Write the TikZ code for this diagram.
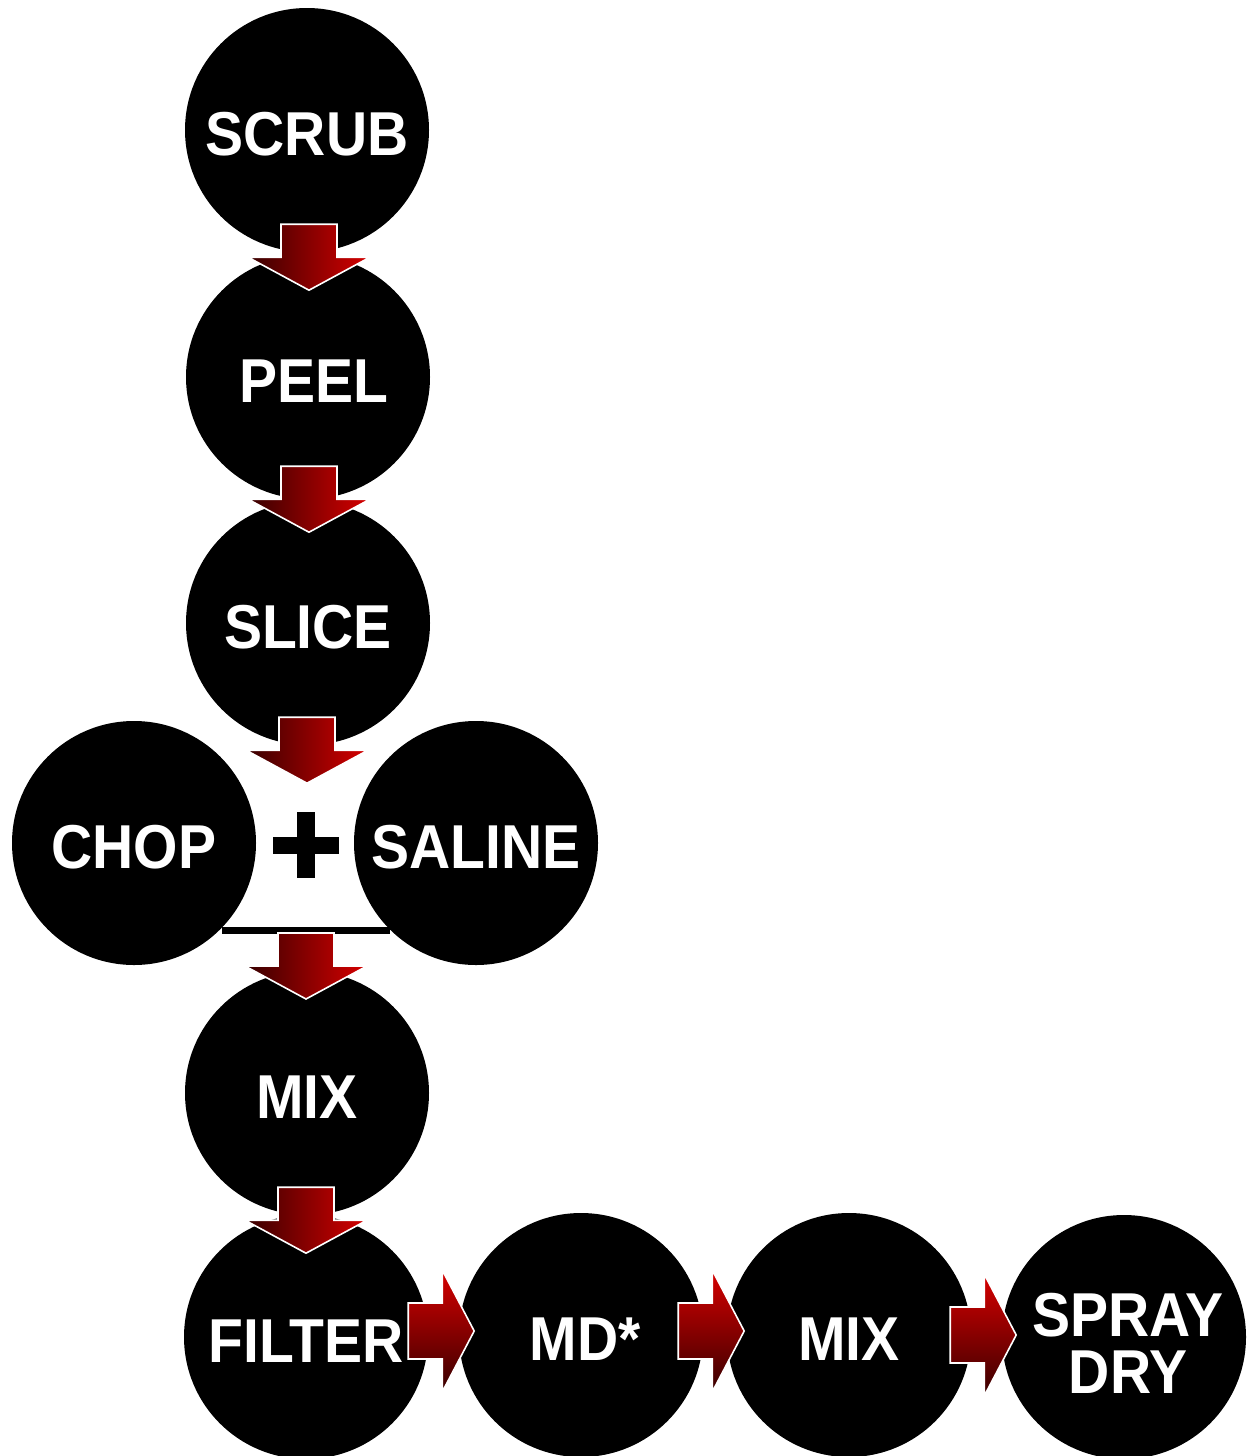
\documentclass[tikz,border=0pt]{standalone}
\usepackage{fontspec}
\setmainfont{Liberation Sans}
\newfontfamily\lblfont[FakeStretch=0.92]{Liberation Sans}
\usetikzlibrary{calc}
\definecolor{arrdark}{RGB}{55,0,0}
\definecolor{arrred}{RGB}{215,0,0}
\tikzset{
  stepcirc/.style={circle, fill=black, minimum size=244pt, inner sep=0pt,
    text=white, font=\lblfont\bfseries\fontsize{62}{57}\selectfont, align=center},
  oneline/.style={text height=50pt, text depth=0pt},
  blockdown/.pic={
    \path[draw=white, line width=1.6pt, left color=arrdark, right color=arrred]
      (-28,0) -- (28,0) -- (28,33) -- (61,33) -- (0,66) -- (-61,33) -- (-28,33) -- cycle;
  },
  blockright/.pic={
    \path[draw=white, line width=1.6pt, top color=arrred, bottom color=arrdark]
      (0,-28) -- (34,-28) -- (34,-61) -- (66,0) -- (34,61) -- (34,28) -- (0,28) -- cycle;
  },
  plusbar/.style={fill=black},
}
\begin{document}
\begin{tikzpicture}[x=1pt, y=-1pt]
\useasboundingbox (0,0) rectangle (1248,1456);
\clip (0,0) rectangle (1248,1456);
% circles
\node[stepcirc, oneline] (scrub)  at (307,130)  {SCRUB};
\node[stepcirc, oneline] (peel)   at (308,377)  {\hspace{12pt}PEEL};
\node[stepcirc, oneline] (slice)  at (308,623)  {SLICE};
\node[stepcirc, oneline] (chop)   at (134,843)  {CHOP};
\node[stepcirc, oneline] (saline) at (476,843)  {SALINE};
\node[stepcirc, oneline] (mix)    at (307,1093) {MIX};
\node[stepcirc, oneline] (filter) at (306,1337) {FILTER};
\node[stepcirc, oneline] (md)     at (581,1335) {\hspace{8pt}MD*};
\node[stepcirc, oneline] (mixb)   at (849,1335) {MIX};
\node[stepcirc] (spray)  at (1124,1337) {\rule{0pt}{56pt}\hspace{8pt}SPRAY\\\hspace{8pt}DRY};
% plus sign and bar
\coordinate (plus) at ($(chop)!0.5!(saline)+(1,2)$);
\fill[plusbar] ($(plus)+(-33,-8.5)$) rectangle ($(plus)+(33,8.5)$);
\fill[plusbar] ($(plus)+(-9,-33)$) rectangle ($(plus)+(9,33)$);
\coordinate (barl) at (222,930);
\coordinate (barr) at (390,930);
\draw[line width=7pt] (barl) -- (barr);
% down arrows
\pic at ($(scrub.south)+(2,-28)$) {blockdown};
\pic at ($(peel.south)+(1,-33)$) {blockdown};
\pic at ($(slice.south)+(-1,-28)$) {blockdown};
\pic at (306,933) {blockdown};
\pic at ($(mix.south)+(-1,-28)$) {blockdown};
% right arrows
\pic at ($(filter.east)+(-20,-6)$) {blockright};
\pic at ($(md.east)+(-25,-4)$) {blockright};
\pic at ($(mixb.east)+(-21,0)$) {blockright};
\end{tikzpicture}
\end{document}
